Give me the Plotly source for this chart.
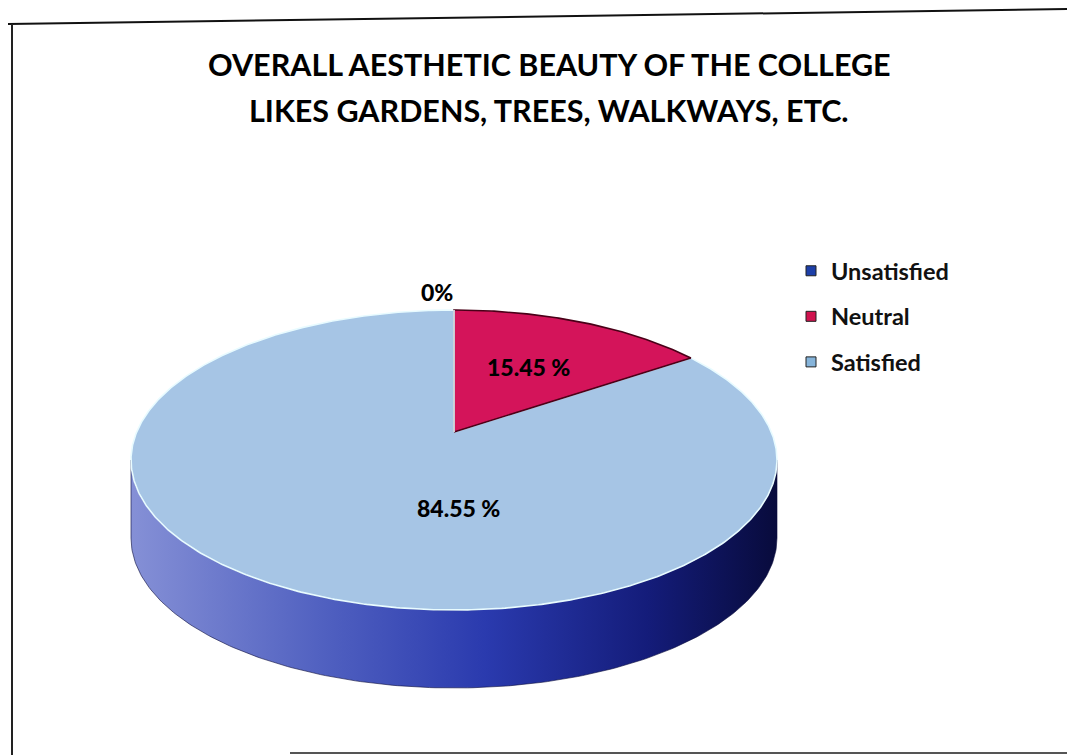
import numpy as np
import plotly.graph_objects as go

# ---------------- data ----------------
categories = ["Unsatisfied", "Neutral", "Satisfied"]
values = [0.0, 15.45, 84.55]
title_lines = ["OVERALL AESTHETIC BEAUTY OF THE COLLEGE",
               "LIKES GARDENS, TREES, WALKWAYS, ETC."]

# ---------------- style ----------------
W, H = 1075, 755
OFF = 8                                # page body margin compensation
FW, FH = W - OFF, H - OFF
colors = ["#1f3f9f", "#d4145a", "#a6c5e5"]
legend_colors = ["#1d3fa8", "#d0134f", "#86b4da"]
edge_colors = ["#e8fbff", "#4a0018", "#e8fbff"]
wall_scale = [[0.0, "#8590d6"], [0.3, "#5060c0"], [0.55, "#2a3aae"],
              [0.8, "#141c7a"], [1.0, "#080b3c"]]
CX, CY, RX, RY = 454, 460, 323, 150   # top face ellipse (pixels)
A = -0.187                             # perspective factor
DEPTH = 78
FONT = "Lato"

# label placement (style): angle override (deg) and radius factor
label_angle = [None, None, 180.0]
label_radius = [1.18, 0.55, 0.48]
label_xshift = [-17, 0, 4]


def px_x(p):
    return (p - OFF) / FW


def px_y(p):
    return 1 - (p - OFF) / FH


def project(u, v, dy=0.0):
    den = 1 + A * v
    x = u * np.sqrt(1 - A * A) / den
    y = (v + A) / den
    return CX + RX * x, CY + RY * y + dy


def circ(theta_deg, r=1.0):
    t = np.radians(theta_deg)
    return r * np.sin(t), -r * np.cos(t)


total = sum(values)
fig = go.Figure()

# side walls (front half only)
theta_front0 = np.degrees(np.arccos(A))
theta_front1 = 360 - theta_front0
cum = 0.0
slices = []
for cat, val in zip(categories, values):
    a0 = cum / total * 360
    a1 = (cum + val) / total * 360
    cum += val
    slices.append((a0, a1))
    lo, hi = max(a0, theta_front0), min(a1, theta_front1)
    if hi > lo:
        th = np.linspace(lo, hi, 200)
        u, v = circ(th)
        xt, yt = project(u, v)
        xb, yb = project(u, v, DEPTH)
        xs = np.concatenate([xt, xb[::-1], xt[:1]])
        ys = np.concatenate([yt, yb[::-1], yt[:1]])
        fig.add_trace(go.Scatter(
            x=xs, y=ys, mode="lines", fill="toself",
            fillgradient=dict(type="horizontal", colorscale=wall_scale),
            line=dict(color="rgba(10,12,60,0.6)", width=1),
            hoverinfo="skip", showlegend=False))

# top faces: draw large slices first
order = sorted(range(len(values)), key=lambda i: -values[i])
for i in order:
    a0, a1 = slices[i]
    n = max(2, int((a1 - a0) * 2))
    th = np.linspace(a0, a1, n)
    u, v = circ(th)
    xa, ya = project(u, v)
    xc, yc = project(0.0, 0.0)
    xs = np.concatenate([[xc], xa, [xc]])
    ys = np.concatenate([[yc], ya, [yc]])
    fig.add_trace(go.Scatter(
        x=xs, y=ys, mode="lines", fill="toself", fillcolor=colors[i],
        line=dict(color=edge_colors[i], width=1.6),
        hoverinfo="skip", showlegend=False))

# legend entries
for cat, c in zip(categories, legend_colors):
    fig.add_trace(go.Scatter(
        x=[None], y=[None], mode="markers", name=cat, legendgroup=cat,
        marker=dict(symbol="square", size=10, color=c,
                    line=dict(color="#222", width=1))))

# data labels
annotations = []
for i, (cat, val) in enumerate(zip(categories, values)):
    a0, a1 = slices[i]
    ang = label_angle[i] if label_angle[i] is not None else (a0 + a1) / 2
    u, v = circ(ang, label_radius[i])
    lx, ly = project(u, v)
    txt = f"{val:.2f} %" if val > 0 else "0%"
    annotations.append(dict(x=lx, y=ly, xref="x", yref="y", text=txt,
                            showarrow=False, xshift=label_xshift[i],
                            xanchor="center", yanchor="middle",
                            font=dict(family=FONT, size=23, color="#000", weight=900)))

# title lines
for k, line in enumerate(title_lines):
    annotations.append(dict(x=px_x(549), y=px_y(64 + 46 * k), xref="paper", yref="paper",
                            text=line, showarrow=False,
                            xanchor="center", yanchor="middle",
                            font=dict(family=FONT, size=30.5, color="#000", weight="bold")))

# photographed chart frame
shapes = [
    dict(type="line", x0=7, y0=24, x1=1075, y1=9, xref="x", yref="y",
         line=dict(color="#111", width=2)),
    dict(type="line", x0=12, y0=24, x1=12, y1=755, xref="x", yref="y",
         line=dict(color="#222", width=2)),
    dict(type="line", x0=290, y0=753, x1=1075, y1=753, xref="x", yref="y",
         line=dict(color="#555", width=2)),
]

fig.update_layout(
    width=FW, height=FH, margin=dict(l=0, r=0, t=0, b=0),
    paper_bgcolor="white", plot_bgcolor="white",
    xaxis=dict(range=[OFF, W], visible=False, fixedrange=True),
    yaxis=dict(range=[H, OFF], visible=False, fixedrange=True),
    annotations=annotations, shapes=shapes,
    showlegend=True,
    legend=dict(x=px_x(791), y=px_y(249), xanchor="left", yanchor="top",
                font=dict(family=FONT, size=23.5, color="#111", weight="bold"),
                tracegroupgap=12, bgcolor="rgba(0,0,0,0)", itemwidth=30),
)

fig.write_html("out.html")
